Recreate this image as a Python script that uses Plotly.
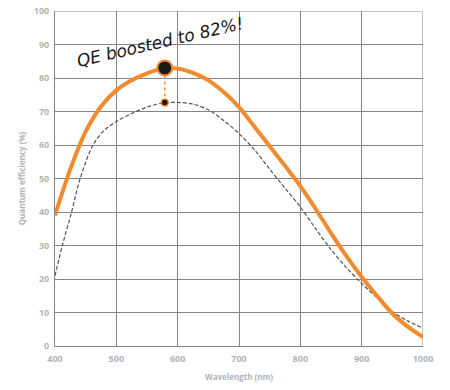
import plotly.graph_objects as go

# Data
wl_boosted = [400, 425, 450, 475, 500, 525, 550, 575, 600, 625, 650, 675, 700, 725, 750,
              775, 800, 825, 850, 875, 900, 925, 950, 975, 1000]
qe_boosted = [39.0, 52.8, 64.0, 71.5, 76.3, 79.3, 81.4, 82.8, 82.8, 81.5, 79.3, 75.8, 71.3, 65.5, 59.6,
              53.8, 47.7, 40.9, 33.7, 26.9, 20.6, 15.0, 9.7, 5.8, 2.7]

wl_standard = [400, 412, 427, 441, 462, 480, 500, 525, 550, 575, 600, 625, 650, 675, 700, 725, 750,
               775, 800, 825, 850, 875, 900, 925, 950, 975, 1000]
qe_standard = [21.0, 30.0, 40.0, 50.0, 60.0, 64.3, 67.0, 69.4, 71.3, 72.5, 72.7, 72.2, 70.5, 67.3, 63.4,
               58.6, 52.8, 47.1, 41.5, 35.0, 28.8, 23.4, 18.7, 14.4, 10.3, 7.5, 5.3]

peak_wl = 579
peak_boosted = 83.0
peak_standard = 72.7

x_ticks = [400, 500, 600, 700, 800, 900, 1000]
y_ticks = [0, 10, 20, 30, 40, 50, 60, 70, 80, 90, 100]

ORANGE = "#f28a2e"
GRID = "#858585"
LABEL = "#b4b4b4"

fig = go.Figure()

fig.add_trace(go.Scatter(
    x=wl_standard, y=qe_standard, mode="lines", line_shape="spline",
    line=dict(color="#555555", width=1.2, dash="4px,2px", smoothing=0.9), hoverinfo="skip"))

fig.add_trace(go.Scatter(
    x=wl_boosted, y=qe_boosted, mode="lines", line_shape="spline",
    line=dict(color=ORANGE, width=4, smoothing=0.9), hoverinfo="skip"))

fig.add_trace(go.Scatter(
    x=[peak_wl, peak_wl], y=[peak_standard, peak_boosted], mode="lines",
    line=dict(color=ORANGE, width=1.5, dash="dot"), hoverinfo="skip"))

fig.add_trace(go.Scatter(
    x=[peak_wl], y=[peak_standard], mode="markers",
    marker=dict(size=7, color="#1a1a1a", line=dict(color=ORANGE, width=1.5)), hoverinfo="skip"))

fig.add_trace(go.Scatter(
    x=[peak_wl], y=[peak_boosted], mode="markers",
    marker=dict(size=15, color="#1a1a1a", line=dict(color=ORANGE, width=2)), hoverinfo="skip"))

fig.add_annotation(
    x=571, y=90.6, xref="x", yref="y", text="QE boosted to 82%!",
    showarrow=False, textangle=-13,
    font=dict(family="DejaVu Sans", size=17, color="#1a1a1a", style="italic"))

fig.update_layout(
    width=450, height=390,
    margin=dict(l=55, r=27, t=11, b=44),
    paper_bgcolor="white", plot_bgcolor="white",
    showlegend=False,
    font=dict(family="Open Sans", color=LABEL),
)

fig.update_xaxes(
    range=[400, 1000], tickvals=x_ticks, ticktext=[str(v) for v in x_ticks],
    showgrid=True, gridcolor=GRID, gridwidth=1,
    showline=True, linecolor=GRID, linewidth=1, mirror=False,
    zeroline=False, ticks="", ticklabelstandoff=4,
    tickfont=dict(size=9, color=LABEL, weight="bold"),
    title=dict(text="Wavelength (nm)", font=dict(size=8, color=LABEL, weight="bold"), standoff=10),
    automargin=False,
)
fig.update_yaxes(
    range=[0, 100], tickvals=y_ticks, ticktext=[str(v) for v in y_ticks],
    showgrid=True, gridcolor=GRID, gridwidth=1,
    showline=True, linecolor=GRID, linewidth=1,
    zeroline=False, ticks="", ticklabelstandoff=3,
    tickfont=dict(size=9, color=LABEL, weight="bold"),
    title=dict(text="Quantum efficiency (%)", font=dict(size=8, color=LABEL, weight="bold"), standoff=6),
    automargin=False,
)

# light right/top border
fig.add_shape(type="line", xref="x", yref="y", x0=1000, x1=1000, y0=0, y1=100,
              line=dict(color="#c4c4c4", width=2), layer="below")
fig.add_shape(type="line", xref="x", yref="y", x0=400, x1=1000, y0=100, y1=100,
              line=dict(color="#c4c4c4", width=2), layer="below")

fig.write_html("out.html", config={"displayModeBar": False},
               post_script="document.body.style.margin='0';")
